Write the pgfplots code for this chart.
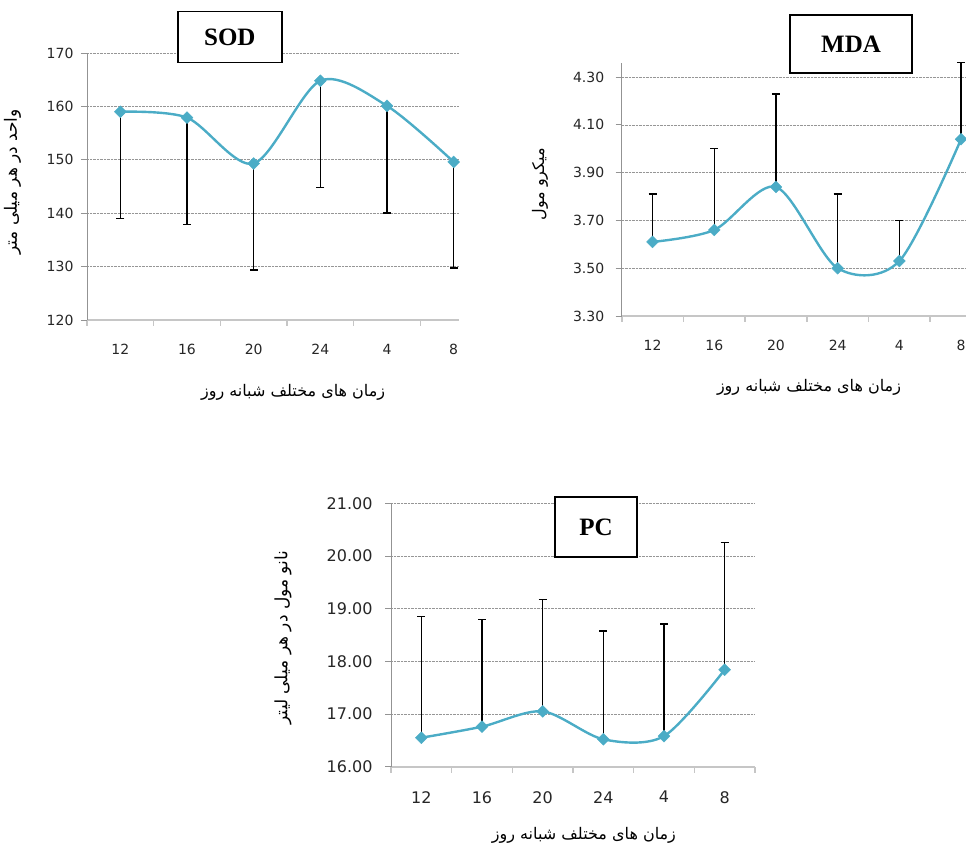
\documentclass[border=0pt]{standalone}
\usepackage{fontspec}
\usepackage{pgfplots}
\pgfplotsset{compat=1.18}
\setmainfont{DejaVu Sans}
\newfontfamily\arabicfont[Script=Arabic]{DejaVu Sans}
\newfontfamily\titlefont{Liberation Serif}
\TeXXeTstate=1
\definecolor{aqua}{RGB}{75,172,198}
\definecolor{gridgray}{RGB}{150,150,150}

\pgfplotstableread{
x y e
0 159.0 20.0
1 157.9 20.0
2 149.3 19.9
3 164.8 20.0
4 160.1 20.1
5 149.6 19.9
}\sod
\pgfplotstableread{
x y e
0 3.61 0.20
1 3.66 0.34
2 3.84 0.39
3 3.50 0.31
4 3.53 0.17
5 4.04 0.32
}\mda
\pgfplotstableread{
x y e
0 16.55 2.30
1 16.76 2.03
2 17.05 2.12
3 16.52 2.06
4 16.58 2.13
5 17.84 2.42
}\pc

\tikzset{
  box/.style={draw=black, line width=1.5pt, fill=white, inner sep=0pt,
    font=\titlefont\bfseries\fontsize{25}{28}\selectfont},
}
\pgfplotsset{
  excel/.style={
    scale only axis,
    anchor=south west,
    axis lines=left,
    axis line style={-},
    x axis line style={draw=gray!45, line width=1.8pt},
    y axis line style={draw=gray!85, line width=0.8pt},
    tick align=outside,
    major tick length=6pt,
    x tick style={draw=gray!45, line width=1.6pt},
    y tick style={draw=gray!85, line width=0.8pt},
    xmin=-0.5, xmax=5.08,
    xtick={-0.5,0.5,...,5.5},
    xticklabels={},
    extra x ticks={0,1,2,3,4,5},
    extra x tick labels={12,16,20,24,4,8},
    extra x tick style={major tick length=0pt, tick style={draw=none},
      xticklabel style={yshift=-21pt}},
    ymajorgrids,
    grid style={densely dotted, draw=gridgray, line width=0.6pt},
    tick label style={font=\fontsize{14}{16}\selectfont, text=black!85},
    /pgf/number format/assume math mode=true,
    clip mode=individual,
    xlabel={\arabicfont\beginR زمان های مختلف شبانه روز\endR},
    xlabel style={font=\fontsize{16}{18}\selectfont, anchor=center},
    ylabel style={font=\fontsize{16}{18}\selectfont, anchor=center},
  },
  errs/.style={draw=none, forget plot,
    error bars/.cd, y dir=#1, y explicit,
    error bar style={draw=black, line width=1.5pt},
    error mark options={draw=black, line width=1.5pt, mark size=4pt, rotate=90}},
  curve/.style={aqua, line width=2.4pt, smooth, mark=square*,
    mark size=4.2pt, mark options={rotate=45, solid, fill=aqua, draw=aqua, line width=0.4pt}},
}

\begin{document}
\begin{tikzpicture}[x=1pt,y=1pt]
\useasboundingbox (0,0) rectangle (966,850);

% SOD
\begin{axis}[excel,
  at={(87pt,530pt)}, width=372pt, height=267pt,
  ymin=120, ymax=170, ytick={120,130,...,170},
  yticklabel style={xshift=-4pt},
  xlabel style={at={(axis description cs:0.554,-0.27)}},
  ylabel={\arabicfont\beginR واحد در هر میلی متر\endR},
  ylabel style={at={(axis description cs:-0.2,0.517)}, font=\fontsize{17}{19}\selectfont},
]
\addplot[errs=minus] table[x=x, y=y, y error=e] {\sod};
\addplot[curve] table[x=x, y=y] {\sod};
\node[box, minimum width=104pt, minimum height=51pt] at (axis description cs:0.384,1.06) {SOD};
\end{axis}

% MDA
\begin{axis}[excel,
  at={(621.7pt,534pt)}, width=344.3pt, height=253.3pt,
  ymin=3.3, ymax=4.36, ytick={3.3,3.5,...,4.31},
  yticklabel style={xshift=-8pt, /pgf/number format/.cd, fixed, fixed zerofill, precision=2},
  xlabel style={at={(axis description cs:0.544,-0.28)}},
  ylabel={\arabicfont\beginR میکرو مول\endR},
  ylabel style={at={(axis description cs:-0.237,0.52)}},
]
\addplot[errs=plus] table[x=x, y=y, y error=e] {\mda};
\addplot[curve] table[x=x, y=y] {\mda};
\node[box, minimum width=122pt, minimum height=58pt] at (axis description cs:0.666,1.074) {MDA};
\end{axis}

% PC
\begin{axis}[excel,
  at={(391pt,83.3pt)}, width=364pt, height=263.4pt,
  xmax=5.5,
  ymin=16, ymax=21, ytick={16,17,...,21},
  yticklabel style={xshift=-9pt, font=\fontsize{16}{18}\selectfont, /pgf/number format/.cd, fixed, fixed zerofill, precision=2},
  xlabel style={at={(axis description cs:0.53,-0.26)}},
  ylabel={\arabicfont\beginR نانو مول در هر میلی لیتر\endR},
  ylabel style={at={(axis description cs:-0.297,0.49)}, font=\fontsize{17}{19}\selectfont},
  extra x tick style={xticklabel style={font=\fontsize{16}{18}\selectfont}},
]
\addplot[errs=plus] table[x=x, y=y, y error=e] {\pc};
\addplot[curve] table[x=x, y=y] {\pc};
\node[box, minimum width=82pt, minimum height=60pt] at (axis description cs:0.563,0.91) {PC};
\end{axis}
\end{tikzpicture}
\end{document}
